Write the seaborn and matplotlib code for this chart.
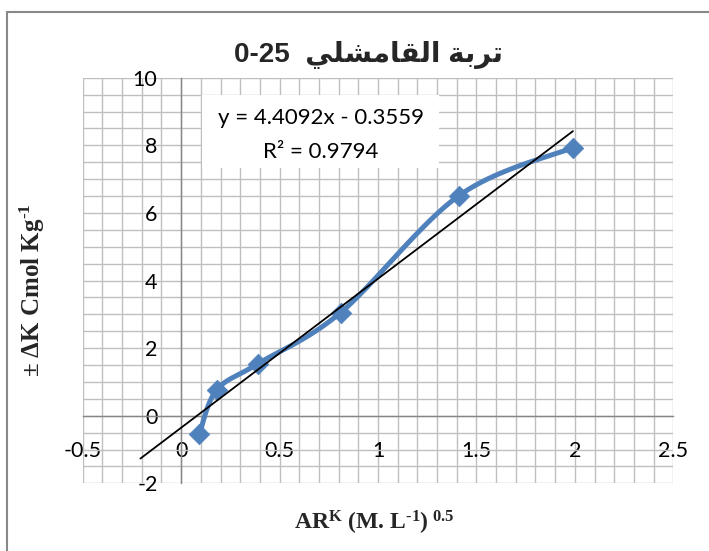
import numpy as np
import pandas as pd
import matplotlib
matplotlib.use("Agg")
import matplotlib.pyplot as plt
from matplotlib.patches import Rectangle
import seaborn as sns

# Measured points: AR^K (M.L^-1)^0.5 versus ±ΔK (cmol/kg)
ar_k = [0.093, 0.18, 0.388, 0.81, 1.411, 1.99]
delta_k = [-0.54, 0.76, 1.53, 3.05, 6.51, 7.93]

# Linear trendline reported on the chart
slope = 4.4092
intercept = -0.3559
r_squared = 0.9794
backcast = 0.3

x_ticks = [-0.5, 0, 0.5, 1, 1.5, 2, 2.5]
y_ticks = [-2, 0, 2, 4, 6, 8, 10]

title_ar = "تربة القامشلي"
title_num = "0-25"

# Presentation forms (isolated, final, initial, medial) for the letters used
FORMS = {
    "ا": ("\ufe8d", "\ufe8e", None, None),
    "ب": ("\ufe8f", "\ufe90", "\ufe91", "\ufe92"),
    "ة": ("\ufe93", "\ufe94", None, None),
    "ت": ("\ufe95", "\ufe96", "\ufe97", "\ufe98"),
    "ر": ("\ufead", "\ufeae", None, None),
    "ش": ("\ufeb5", "\ufeb6", "\ufeb7", "\ufeb8"),
    "ق": ("\ufed5", "\ufed6", "\ufed7", "\ufed8"),
    "ل": ("\ufedd", "\ufede", "\ufedf", "\ufee0"),
    "م": ("\ufee1", "\ufee2", "\ufee3", "\ufee4"),
    "ي": ("\ufef1", "\ufef2", "\ufef3", "\ufef4"),
}


def shape_word(word):
    out = []
    for i, ch in enumerate(word):
        prev = word[i - 1] if i > 0 else None
        nxt = word[i + 1] if i < len(word) - 1 else None
        joins_prev = prev in FORMS and FORMS[prev][2] is not None
        joins_next = nxt in FORMS and FORMS[ch][2] is not None
        iso, fin, ini, med = FORMS[ch]
        if joins_prev and joins_next:
            out.append(med)
        elif joins_prev:
            out.append(fin)
        elif joins_next:
            out.append(ini)
        else:
            out.append(iso)
    return "".join(out)


def visual_rtl(text):
    words = [shape_word(w)[::-1] for w in text.split(" ")]
    return " ".join(words[::-1])


def smooth_curve(x, y, n=40):
    # Bezier smoothing through every point (Catmull-Rom control points)
    pts = np.column_stack([x, y]).astype(float)
    ext = np.vstack([pts[0], pts, pts[-1]])
    segs = []
    t = np.linspace(0, 1, n)[:, None]
    for i in range(len(pts) - 1):
        p0, p1, p2, p3 = ext[i], ext[i + 1], ext[i + 2], ext[i + 3]
        c1 = p1 + (p2 - p0) / 6
        c2 = p2 - (p3 - p1) / 6
        seg = (1 - t) ** 3 * p1 + 3 * (1 - t) ** 2 * t * c1 + 3 * (1 - t) * t ** 2 * c2 + t ** 3 * p2
        segs.append(seg if i == 0 else seg[1:])
    return np.vstack(segs)


sns.set_theme(style="white")
plt.rcParams["font.family"] = ["Lato", "DejaVu Sans"]
plt.rcParams["mathtext.fontset"] = "custom"
plt.rcParams["mathtext.rm"] = "Liberation Serif:bold"
plt.rcParams["mathtext.bf"] = "Liberation Serif:bold"
plt.rcParams["mathtext.it"] = "Liberation Serif:bold"

fig = plt.figure(figsize=(7.09, 5.51), dpi=100)
fig.patch.set_facecolor("white")
ax = fig.add_axes([82.7 / 709, 1 - 483.3 / 551, (673.3 - 82.7) / 709, (483.3 - 77.7) / 551])

blue = "#4F81BD"
grid_c = "#BFBFBF"
axis_c = "#868686"

df = pd.DataFrame({"ark": ar_k, "dk": delta_k})
curve = smooth_curve(df["ark"], df["dk"])
curve_df = pd.DataFrame({"x": curve[:, 0], "y": curve[:, 1]})

fit_x = np.array([ar_k[0] - backcast, ar_k[-1]])
fit_df = pd.DataFrame({"x": fit_x, "y": slope * fit_x + intercept})

sns.lineplot(data=curve_df, x="x", y="y", sort=False, estimator=None,
             color=blue, linewidth=3.6, ax=ax, zorder=3)
sns.scatterplot(data=df, x="ark", y="dk", marker="D", s=110, color=blue,
                edgecolor=blue, linewidth=0.5, ax=ax, zorder=4)
sns.lineplot(data=fit_df, x="x", y="y", sort=False, estimator=None,
             color="black", linewidth=1.3, ax=ax, zorder=5)

ax.set_xlim(-0.5, 2.5)
ax.set_ylim(-2, 10)
ax.set_xticks(x_ticks)
ax.set_yticks(y_ticks)
ax.set_xticklabels([f"{v:g}" for v in x_ticks])
ax.set_yticklabels([f"{v:g}" for v in y_ticks])
ax.set_xticks(np.arange(-0.5, 2.51, 0.1), minor=True)
ax.set_yticks(np.arange(-2, 10.01, 0.5), minor=True)
ax.grid(which="both", color=grid_c, linewidth=1.0, zorder=0)
ax.set_axisbelow(True)

for side in ("top", "right"):
    ax.spines[side].set_visible(False)
ax.spines["left"].set_position(("data", 0))
ax.spines["bottom"].set_position(("data", 0))
for side in ("left", "bottom"):
    ax.spines[side].set_color(axis_c)
    ax.spines[side].set_linewidth(1.0)
    ax.spines[side].set_zorder(1)

ax.tick_params(axis="both", which="major", direction="out", length=4,
               color=axis_c, width=1.0, labelsize=15.5, labelcolor="black")
ax.tick_params(axis="x", which="major", pad=14)
ax.tick_params(axis="y", which="major", pad=13)
ax.tick_params(which="minor", length=0)
ax.set_xlabel("")
ax.set_ylabel("")

# Trendline equation box
ax.add_patch(Rectangle((0.108, 7.33), 1.2, 2.16, facecolor="white",
                       edgecolor="none", zorder=2))
ax.text(0.708, 8.81, f"y = {slope}x - {abs(intercept)}", ha="center", va="center",
        fontsize=16, color="black", zorder=6)
ax.text(0.708, 7.80, f"R² = {r_squared}", ha="center", va="center",
        fontsize=16, color="black", zorder=6)

# Title
fig.text(368 / 709, 1 - 55 / 551, title_num + "  " + visual_rtl(title_ar),
         ha="center", va="center", fontsize=20, fontweight="bold",
         family=["Liberation Sans", "DejaVu Sans"])

# Axis titles (superscript exponents use a plain hyphen, not a math minus)
neg_one = "$^{\\mathbf{\u2010" + "1}}$"
x_label = "AR$^{\\mathbf{K}}$ (M. L" + neg_one + ")$^{\\mathbf{\\ 0.5}}$"
y_label = "± ΔK Cmol Kg" + neg_one
fig.text(374 / 709, 1 - 523 / 551, x_label,
         ha="center", va="center", fontsize=17, fontweight="bold",
         family="Liberation Serif")
fig.text(32 / 709, 1 - 290 / 551, y_label,
         ha="center", va="center", rotation=90, fontsize=18, fontweight="bold",
         family="Liberation Serif")

# Chart frame
fig.patches.append(Rectangle((7 / 709, -0.1), 1.2, 1 - 12 / 551 + 0.1,
                             transform=fig.transFigure, fill=False,
                             edgecolor="#888888", linewidth=1.5))

fig.savefig("out.png", dpi=100)
